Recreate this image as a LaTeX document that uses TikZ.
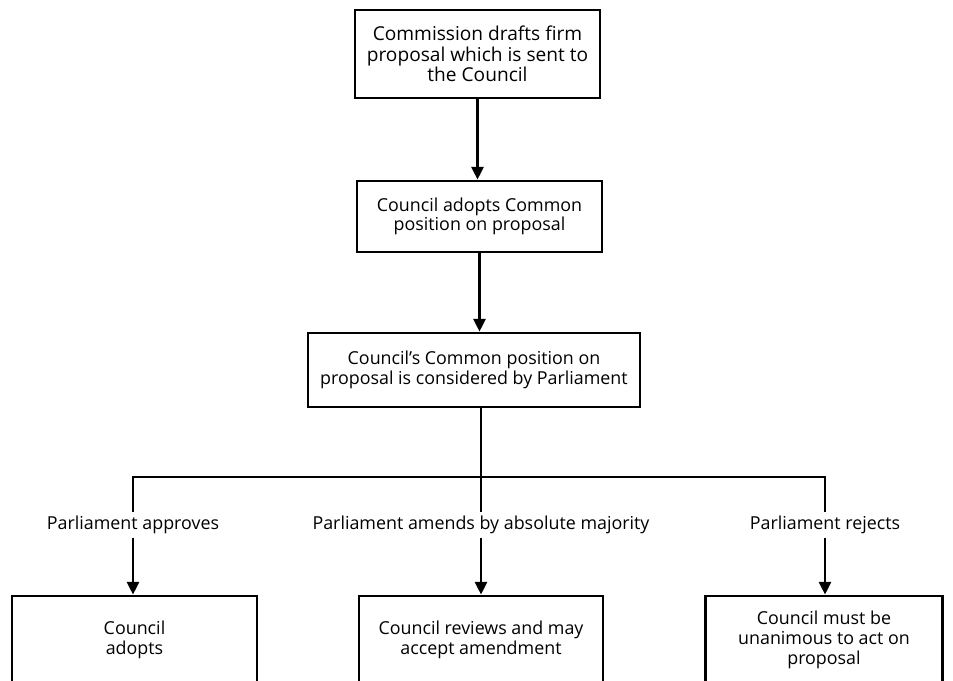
\documentclass[tikz,border=0pt]{standalone}
\usepackage{fontspec}
\setmainfont{Open Sans}
\usetikzlibrary{arrows.meta,positioning}
\tikzset{
  box/.style={draw,line width=2pt,align=center,inner sep=2pt,font=\fontsize{12.7}{14}\selectfont},
  lbl/.style={inner sep=3pt,font=\fontsize{12.7}{14}\selectfont},
  link/.style={line width=1.9pt},
  arr/.style={link,-{Triangle[length=9pt,width=8.5pt]}}
}
\begin{document}
\begin{tikzpicture}[x=0.025cm,y=-0.025cm]
	\useasboundingbox(0,0) rectangle (953,680);
	\clip(0,0) rectangle (953,680);
	\node[box,font=\fontsize{13.6}{14.4}\selectfont,minimum width=245*0.025cm,minimum height=88*0.025cm] (b1) at (477.5,54) {Commission drafts firm\\proposal which is sent to\\the Council};
	\node[box,minimum width=245*0.025cm,minimum height=71*0.025cm] (b2) at (479.5,216.5) {Council adopts Common\\position on proposal};
	\node[box,minimum width=332*0.025cm,minimum height=74*0.025cm] (b3) at (474,370) {Council's Common position on\\proposal is considered by Parliament};
	\coordinate (j) at (481,477);
	\node[lbl] (lA) at (133,525) {Parliament approves};
	\node[lbl] (lB) at (481,525) {Parliament amends by absolute majority};
	\node[lbl] (lC) at (825,525) {Parliament rejects};
	\node[box,minimum width=245*0.025cm,minimum height=88*0.025cm] (bA) at (134.5,640) {Council\\adopts};
	\node[box,minimum width=244*0.025cm,minimum height=88*0.025cm] (bB) at (481,640) {Council reviews and may\\accept amendment};
	\node[box,minimum width=237*0.025cm,minimum height=88*0.025cm] (bC) at (824,640) {Council must be\\unanimous to act on\\proposal};
	\draw[arr](b1.south)--(b1.south |- b2.north);
	\draw[arr](b2.south)--(b2.south |- b3.north);
	\draw[link](b3.south -| j)--(lB.north);
	\draw[link](lA.north)|-(j)-|(lC.north);
	\draw[arr](lA.south)--(lA.south |- bA.north);
	\draw[arr](lB.south)--(lB.south |- bB.north);
	\draw[arr](lC.south)--(lC.south |- bC.north);
\end{tikzpicture}
\end{document}
